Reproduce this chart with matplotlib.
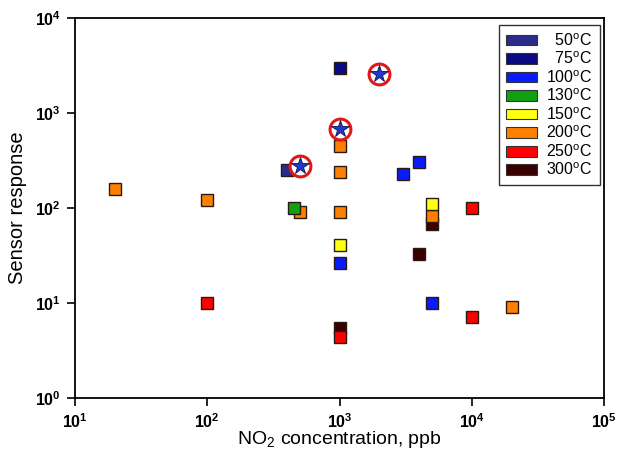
import numpy as np
import matplotlib.pyplot as plt
from matplotlib.ticker import FuncFormatter, LogLocator, NullLocator

plt.rcParams["font.family"] = ["Liberation Sans", "DejaVu Sans"]
plt.rcParams["mathtext.fontset"] = "custom"
plt.rcParams["mathtext.rm"] = "Liberation Sans"
plt.rcParams["mathtext.bf"] = "Liberation Sans:bold"

# temperature series: (label, colour, x values [ppb], y values [response])
temps = ["50", "75", "100", "130", "150", "200", "250", "300"]
colors = ["#2b2b8c", "#0a0a82", "#0a1aff", "#10a010", "#ffff10", "#ff8000", "#ff0000", "#3a0000"]
x_50 = [400]
y_50 = [250]
x_75 = [1000]
y_75 = [3000]
x_100 = [3000, 4000, 1000, 5000]
y_100 = [228, 305, 26.4, 10]
x_130 = [450]
y_130 = [100]
x_150 = [1000, 5000]
y_150 = [40.5, 109]
x_200 = [20, 100, 500, 1000, 1000, 1000, 5000, 20000]
y_200 = [160, 120, 90, 90, 450, 240, 82, 9]
x_250 = [100, 1000, 10000, 10000]
y_250 = [10, 4.4, 100, 7.1]
x_300 = [1000, 4000, 5000]
y_300 = [5.5, 32.5, 67]

xs = [x_50, x_75, x_100, x_130, x_150, x_200, x_250, x_300]
ys = [y_50, y_75, y_100, y_130, y_150, y_200, y_250, y_300]
zorders = [5, 5, 5, 6, 7, 4, 7, 3]

# highlighted points (star in red circle)
star_x = [500, 1000, 2000]
star_y = [275, 670, 2560]

fig = plt.figure(figsize=(6.17, 4.59), dpi=100)
ax = fig.add_axes([0.1216, 0.133, 0.8574, 0.828])

handles = []
for t, c, x, y, z in zip(temps, colors, xs, ys, zorders):
    ax.plot(x, y, "s", ms=8, mfc=c, mec="#2a1a10", mew=1.0, ls="none", zorder=z)
    h = plt.Rectangle((0, 0), 1, 1, fc=c, ec="#333333", lw=0.8)
    handles.append(h)

ax.plot(star_x, star_y, "o", ms=15, mfc="white", mec="#e01818", mew=2.2, ls="none", zorder=8)
ax.plot(star_x, star_y, "*", ms=13, mfc="#1f3cc8", mec="#101050", mew=0.6, ls="none", zorder=9)

ax.set_xscale("log")
ax.set_yscale("log")
ax.set_xlim(10, 1e5)
ax.set_ylim(1, 1e4)
ax.xaxis.set_major_locator(LogLocator(base=10, numticks=10))
ax.yaxis.set_major_locator(LogLocator(base=10, numticks=10))
ax.xaxis.set_minor_locator(NullLocator())
ax.yaxis.set_minor_locator(NullLocator())
fmt = FuncFormatter(lambda v, p: r"$\mathbf{10^{%d}}$" % round(np.log10(v)))
ax.xaxis.set_major_formatter(fmt)
ax.yaxis.set_major_formatter(fmt)
ax.tick_params(direction="out", length=6, width=1.2, labelsize=11.5, pad=4)
for s in ax.spines.values():
    s.set_linewidth(1.3)

ax.set_xlabel(r"NO$_2$ concentration, ppb", fontsize=14, labelpad=-1)
ax.set_ylabel("Sensor response", fontsize=14.5, labelpad=6)

labels = ["  " + t + r"$^{\rm o}$C" if len(t) == 2 else t + r"$^{\rm o}$C" for t in temps]
leg = ax.legend(handles, labels, loc="upper right", fontsize=11.5, frameon=True, fancybox=False,
                edgecolor="black", handlelength=1.95, handleheight=0.65, labelspacing=0.12,
                borderpad=0.45, handletextpad=0.6, borderaxespad=0,
                bbox_to_anchor=(0.9924, 0.9816))
leg.get_frame().set_linewidth(1.0)

fig.savefig("out.png", dpi=100)
